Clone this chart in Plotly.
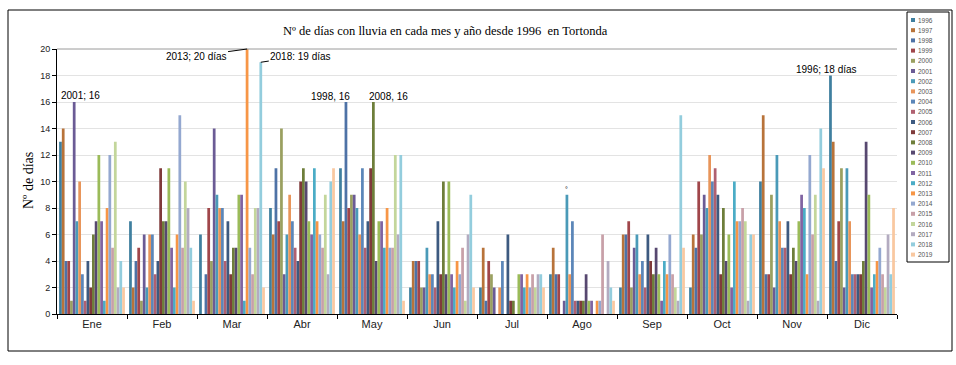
import plotly.graph_objects as go

months = ["Ene", "Feb", "Mar", "Abr", "May", "Jun", "Jul", "Ago", "Sep", "Oct", "Nov", "Dic"]
years = [str(y) for y in range(1996, 2020)]

# values per month, one entry per year 1996..2019
ene = [13, 14, 4, 4, 1, 16, 7, 10, 3, 1, 4, 2, 6, 7, 12, 7, 1, 8, 12, 5, 13, 2, 4, 2]
feb = [7, 2, 4, 5, 1, 6, 2, 6, 6, 3, 4, 11, 7, 7, 11, 5, 2, 6, 15, 5, 10, 8, 5, 1]
mar = [6, 0, 3, 8, 4, 14, 9, 8, 8, 4, 7, 3, 5, 5, 9, 9, 1, 20, 5, 3, 8, 8, 19, 2]
abr = [8, 6, 11, 7, 14, 3, 6, 9, 7, 5, 4, 10, 11, 10, 7, 6, 11, 7, 6, 5, 9, 3, 10, 11]
may = [11, 7, 16, 8, 9, 9, 8, 6, 11, 5, 7, 11, 16, 4, 7, 7, 5, 8, 5, 5, 12, 6, 12, 1]
jun = [2, 4, 4, 4, 2, 2, 5, 3, 3, 2, 7, 3, 10, 3, 10, 3, 2, 4, 3, 5, 1, 6, 9, 2]
jul = [2, 5, 1, 4, 3, 2, 0, 2, 4, 0, 6, 1, 1, 0, 3, 3, 2, 3, 2, 3, 2, 3, 3, 2]
ago = [3, 5, 3, 3, 0, 1, 9, 3, 7, 1, 1, 1, 1, 3, 1, 1, 0, 1, 1, 6, 0, 4, 2, 1]
sep = [2, 6, 6, 7, 2, 5, 6, 3, 4, 2, 6, 4, 3, 5, 3, 1, 4, 3, 6, 3, 2, 1, 15, 5]
octu = [2, 6, 5, 10, 6, 9, 8, 12, 10, 11, 9, 3, 8, 4, 6, 2, 10, 7, 7, 8, 7, 1, 6, 6]
nov = [10, 15, 3, 3, 9, 2, 12, 7, 5, 5, 7, 3, 5, 4, 7, 9, 8, 3, 12, 6, 9, 1, 14, 11]
dic = [18, 13, 4, 7, 11, 2, 11, 7, 3, 3, 3, 3, 4, 13, 9, 2, 3, 4, 5, 3, 2, 6, 3, 8]
by_month = [ene, feb, mar, abr, may, jun, jul, ago, sep, octu, nov, dic]

colors = ["#3F7F9F", "#B8733A", "#4E72A6", "#A0464A", "#9AA060", "#6B5B95",
          "#4A9AB8", "#E8955A", "#5B86B8", "#B06070", "#3D5A80", "#7F3A3A",
          "#6E7E3A", "#574870", "#9BBB59", "#8064A2", "#4BACC6", "#F79646",
          "#94A8D0", "#C8A0A8", "#C3D69B", "#B3ABC0", "#93CDDD", "#F9C8A0"]

W_FIG, H_FIG = 956, 365
L, R, T, B = 57, 59, 49, 51
PW, PH = W_FIG - L - R, H_FIG - T - B
BARGAP = 0.06


def px(x):
    return (x - L) / PW


def py(y):
    return (T + PH - y) / PH


def bar_x(month_idx, year_idx):
    w = 1 - BARGAP
    return month_idx - w / 2 + (year_idx + 0.5) * w / len(years)


fig = go.Figure()
for k, yr in enumerate(years):
    fig.add_trace(go.Bar(
        x=months, y=[m[k] for m in by_month], name=yr,
        marker=dict(color=colors[k], line=dict(width=0)),
        showlegend=False,
    ))

ann_font = dict(family="Arial, Liberation Sans", size=10, color="#000")


def label(text, x, y, xanchor="center", font=ann_font, **kw):
    return dict(text=text, xref="paper", yref="paper", x=px(x), y=py(y),
                xanchor=xanchor, yanchor="middle", showarrow=False, font=font, **kw)


annotations = [
    label("Nº de días con lluvia en cada mes y año desde 1996  en Tortonda", 445, 31,
          font=dict(family="Liberation Serif, Times New Roman", size=12.5, color="#000")),
    label("Nº de días", 28, 180, textangle=-90,
          font=dict(family="Liberation Serif, Times New Roman", size=14, color="#000")),
    label("2001; 16", 80, 95),
    label("1998, 16", 330, 96),
    label("2008, 16", 388, 96),
    label("1996; 18 días", 826, 69),
    dict(text="2013; 20 días", x=bar_x(2, 17), y=mar[17], xref="x", yref="y",
         showarrow=True, arrowhead=0, arrowwidth=1, arrowcolor="#000",
         ax=-51, ay=7, font=ann_font),
    dict(text="2018: 19 días", x=bar_x(2, 22), y=mar[22], xref="x", yref="y",
         showarrow=True, arrowhead=0, arrowwidth=1, arrowcolor="#000",
         ax=40, ay=-6, font=ann_font),
    dict(text="°", x=bar_x(7, 6), y=ago[6], xref="x", yref="y", yanchor="bottom",
         xanchor="center", showarrow=False,
         font=dict(family="Arial", size=7, color="#000")),
]

shapes = [
    # outer frame
    dict(type="rect", xref="paper", yref="paper", x0=px(8), x1=px(952),
         y0=py(351), y1=py(10), line=dict(color="#000", width=1)),
    # top border of plot area
    dict(type="line", xref="paper", yref="paper", x0=0, x1=1, y0=1, y1=1,
         line=dict(color="#9a9a9a", width=1)),
    # legend box
    dict(type="rect", xref="paper", yref="paper", x0=px(907), x1=px(949),
         y0=py(262), y1=py(12), line=dict(color="#000", width=1),
         fillcolor="#fff"),
]

# manual compact legend
for k, yr in enumerate(years):
    yc = 20 + k * 10.2
    shapes.append(dict(type="rect", xref="paper", yref="paper",
                       x0=px(911), x1=px(915), y0=py(yc + 2), y1=py(yc - 2),
                       fillcolor=colors[k], line=dict(width=0)))
    annotations.append(label(yr, 917, yc, xanchor="left", borderpad=0,
                             font=dict(family="Arial, Liberation Sans", size=6.5,
                                       color="#555")))

fig.update_layout(
    width=W_FIG, height=H_FIG,
    margin=dict(l=L, r=R, t=T, b=B, autoexpand=False),
    paper_bgcolor="#fff", plot_bgcolor="#fff",
    barmode="group", bargap=BARGAP, bargroupgap=0,
    annotations=annotations, shapes=shapes,
    xaxis=dict(type="category", tickson="boundaries", ticks="outside", ticklen=4,
               tickcolor="#000", showline=True, linecolor="#000", linewidth=1,
               showgrid=False,
               tickfont=dict(family="Arial, Liberation Sans", size=11, color="#222")),
    yaxis=dict(range=[0, 20], dtick=2, ticks="outside", ticklen=4, tickcolor="#000",
               showline=True, linecolor="#000", linewidth=1,
               gridcolor="#e3e3e3", zeroline=False,
               tickfont=dict(family="Arial, Liberation Sans", size=9, color="#222")),
)

fig.write_html("out.html", config={"displayModeBar": False},
               post_script="document.body.style.margin='0';document.body.style.overflow='hidden';")
